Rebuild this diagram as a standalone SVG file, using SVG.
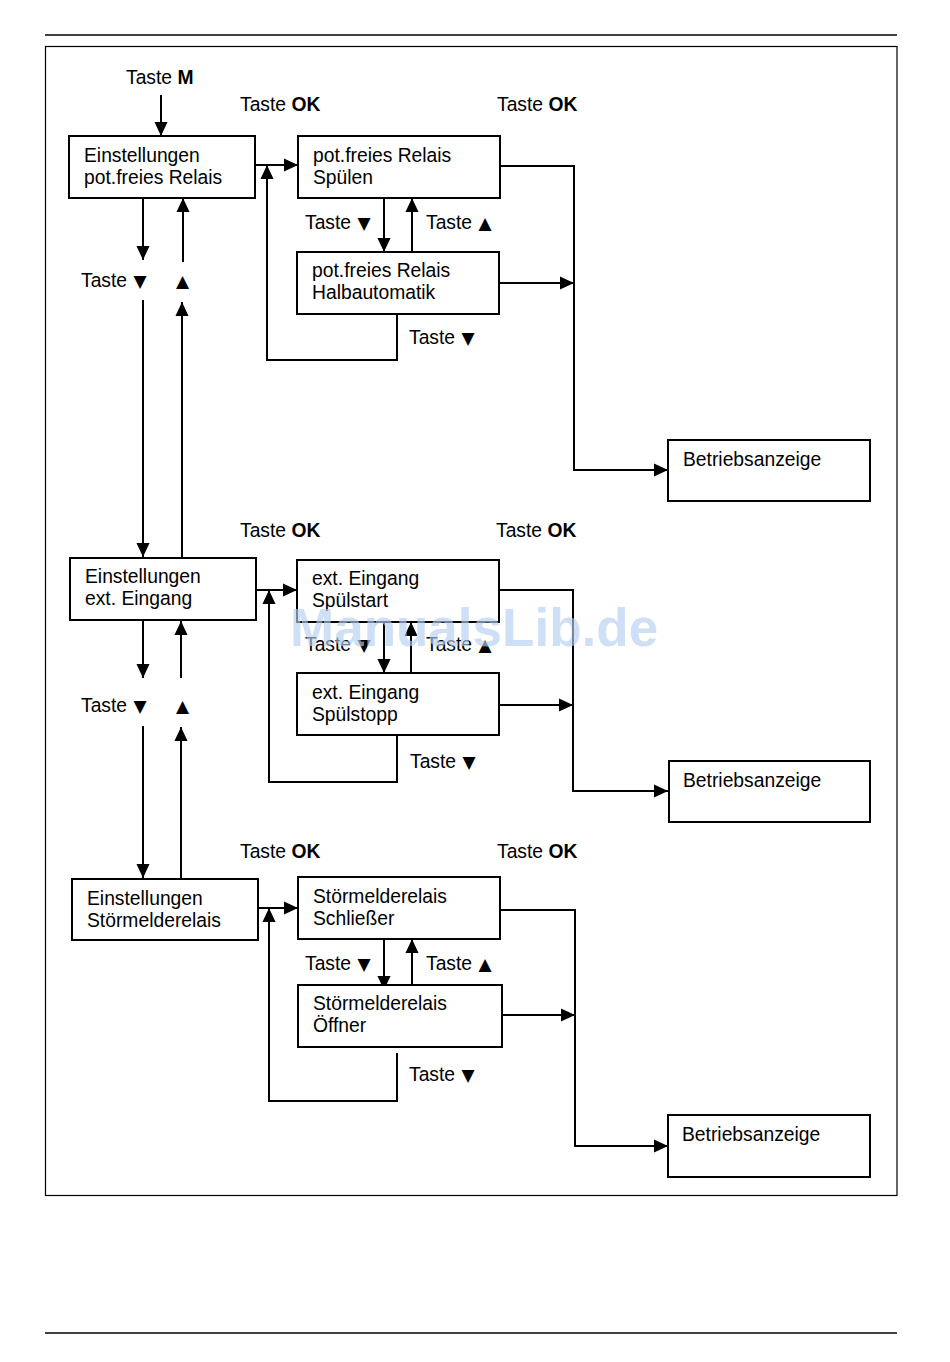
<svg xmlns="http://www.w3.org/2000/svg" width="950" height="1362" viewBox="0 0 950 1362">
<defs>
<marker id="ah" markerUnits="userSpaceOnUse" markerWidth="14" markerHeight="15" viewBox="0 0 15 14" refX="15" refY="7" orient="auto">
<path d="M0,0 L15,7 L0,14 z" fill="#000"/>
</marker>
<style>
.box{fill:#fff;stroke:#000;stroke-width:2}
.t{font-family:"Liberation Sans",Arial,sans-serif;font-size:19.3px;fill:#000}
.b{font-weight:bold}
.s{font-family:"DejaVu Sans","Liberation Sans",sans-serif;font-size:17px}
.c{fill:none;stroke:#000;stroke-width:2}
.a{marker-end:url(#ah)}
.wm{font-family:"Liberation Sans",Arial,sans-serif;font-size:53px;font-weight:bold;fill:#b5cff2;opacity:0.65}
</style>
</defs>
<rect width="950" height="1362" fill="#fff"/>
<line x1="45" y1="35" x2="897" y2="35" stroke="#000" stroke-width="1.5"/>
<rect x="45.5" y="46.5" width="851.5" height="1149" fill="none" stroke="#000" stroke-width="1.2"/>
<line x1="45" y1="1333" x2="897" y2="1333" stroke="#000" stroke-width="1.5"/>

<g id="connectors">
<path class="c a" d="M161,95 V136"/>
<path class="c a" d="M255,165 H298"/>
<path class="c a" d="M384,198 V252"/>
<path class="c a" d="M412,252 V198"/>
<path class="c a" d="M397,314 V360 H267 V165"/>
<path class="c a" d="M500,166 H574 V470 H668"/>
<path class="c a" d="M499,283 H574"/>
<path class="c a" d="M143,198 V260"/>
<path class="c a" d="M183,262 V198"/>
<path class="c a" d="M143,300 V557"/>
<path class="c a" d="M182,557 V302"/>

<path class="c a" d="M256,590 H297"/>
<path class="c a" d="M384,622 V673"/>
<path class="c a" d="M411,673 V622"/>
<path class="c a" d="M397,735 V782 H269 V590"/>
<path class="c a" d="M499,590 H573 V791 H668"/>
<path class="c a" d="M499,705 H573"/>
<path class="c a" d="M143,620 V678"/>
<path class="c a" d="M181,678 V621"/>
<path class="c a" d="M143,726 V878"/>
<path class="c a" d="M181,878 V727"/>

<path class="c a" d="M258,908 H298"/>
<path class="c a" d="M384,939 V990"/>
<path class="c a" d="M412,990 V939"/>
<path class="c a" d="M397,1053 V1101 H269 V908"/>
<path class="c a" d="M500,910 H575 V1146 H668"/>
<path class="c a" d="M502,1015 H575"/>
</g>

<g id="labels">
<text class="t" x="126" y="84">Taste <tspan class="b">M</tspan></text>
<text class="t" x="240" y="111">Taste <tspan class="b">OK</tspan></text>
<text class="t" x="497" y="111">Taste <tspan class="b">OK</tspan></text>
<text class="t" x="305" y="229">Taste <tspan class="s" dx="1">▼</tspan></text>
<text class="t" x="426" y="229">Taste <tspan class="s" dx="1">▲</tspan></text>
<text class="t" x="409" y="344">Taste <tspan class="s" dx="1">▼</tspan></text>
<text class="t" x="81" y="287">Taste <tspan class="s" dx="1">▼</tspan></text>
<text class="t s" x="176" y="287">▲</text>

<text class="t" x="240" y="537">Taste <tspan class="b">OK</tspan></text>
<text class="t" x="496" y="537">Taste <tspan class="b">OK</tspan></text>
<text class="t" x="305" y="651">Taste <tspan class="s" dx="1">▼</tspan></text>
<text class="t" x="426" y="651">Taste <tspan class="s" dx="1">▲</tspan></text>
<text class="t" x="410" y="768">Taste <tspan class="s" dx="1">▼</tspan></text>
<text class="t" x="81" y="712">Taste <tspan class="s" dx="1">▼</tspan></text>
<text class="t s" x="176" y="712">▲</text>

<text class="t" x="240" y="858">Taste <tspan class="b">OK</tspan></text>
<text class="t" x="497" y="858">Taste <tspan class="b">OK</tspan></text>
<text class="t" x="305" y="970">Taste <tspan class="s" dx="1">▼</tspan></text>
<text class="t" x="426" y="970">Taste <tspan class="s" dx="1">▲</tspan></text>
<text class="t" x="409" y="1081">Taste <tspan class="s" dx="1">▼</tspan></text>
</g>

<g id="n-einst-relais"><rect class="box" x="69" y="136" width="186" height="62"/><text class="t" x="84" y="162">Einstellungen</text><text class="t" x="84" y="184">pot.freies Relais</text></g>
<g id="n-relais-spuelen"><rect class="box" x="298" y="136" width="202" height="62"/><text class="t" x="313" y="162">pot.freies Relais</text><text class="t" x="313" y="184">Spülen</text></g>
<g id="n-relais-halb"><rect class="box" x="297" y="252" width="202" height="62"/><text class="t" x="312" y="277">pot.freies Relais</text><text class="t" x="312" y="299">Halbautomatik</text></g>
<g id="n-betrieb-1"><rect class="box" x="668" y="440" width="202" height="61"/><text class="t" x="683" y="466">Betriebsanzeige</text></g>

<g id="n-einst-ext"><rect class="box" x="70" y="558" width="186" height="62"/><text class="t" x="85" y="583">Einstellungen</text><text class="t" x="85" y="605">ext. Eingang</text></g>
<g id="n-ext-start"><rect class="box" x="297" y="560" width="202" height="62"/><text class="t" x="312" y="585">ext. Eingang</text><text class="t" x="312" y="607">Spülstart</text></g>
<g id="n-ext-stopp"><rect class="box" x="297" y="673" width="202" height="62"/><text class="t" x="312" y="699">ext. Eingang</text><text class="t" x="312" y="721">Spülstopp</text></g>
<g id="n-betrieb-2"><rect class="box" x="669" y="761" width="201" height="61"/><text class="t" x="683" y="787">Betriebsanzeige</text></g>

<g id="n-einst-stoer"><rect class="box" x="72" y="879" width="186" height="61"/><text class="t" x="87" y="905">Einstellungen</text><text class="t" x="87" y="927">Störmelderelais</text></g>
<g id="n-stoer-schl"><rect class="box" x="298" y="877" width="202" height="62"/><text class="t" x="313" y="903">Störmelderelais</text><text class="t" x="313" y="925">Schließer</text></g>
<g id="n-stoer-oeff"><rect class="box" x="298" y="985" width="204" height="62"/><text class="t" x="313" y="1010">Störmelderelais</text><text class="t" x="313" y="1032">Öffner</text></g>
<g id="n-betrieb-3"><rect class="box" x="668" y="1115" width="202" height="62"/><text class="t" x="682" y="1141">Betriebsanzeige</text></g>

<text class="wm" x="290" y="646">ManualsLib.de</text>
</svg>
